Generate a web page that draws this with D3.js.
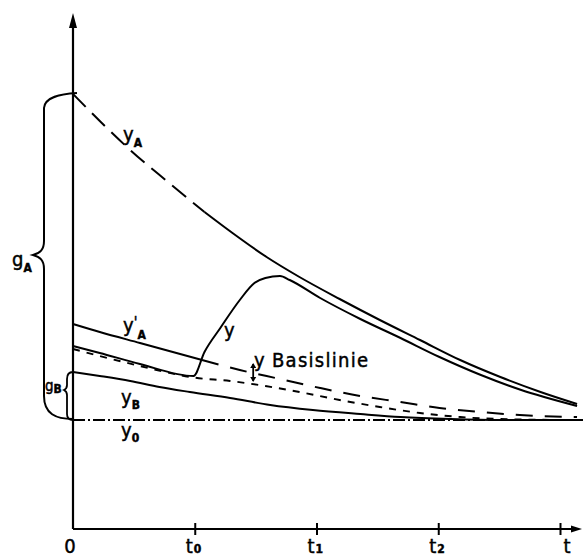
<!DOCTYPE html>
<html><head><meta charset="utf-8">
<script src="https://cdn.jsdelivr.net/npm/d3@7"></script>
<style>
body{margin:0;background:#fff}
svg{display:block}
text{font-family:"DejaVu Sans Condensed","DejaVu Sans",sans-serif;fill:#000;stroke:#000;stroke-width:0.45px}
</style>
</head><body>
<svg id="c" width="583" height="559"></svg>
<script>
// ---------- data ----------
const tickValues = [0, 1, 2, 3, 4];
const tickMain   = ["0", "t", "t", "t", "t"];
const tickSub    = ["", "0", "1", "2", ""];

// y_A (dashed until injection, then solid)
const yA_t = [0, 0.22, 0.47, 0.77, 1.08, 1.31, 1.59, 1.86, 2.19, 2.52, 2.85, 3.18, 3.51, 3.84, 4.14];
const yA_v = [43.5, 40.8, 37.9, 34.8, 31.7, 29.6, 27.2, 25.2, 23.0, 20.9, 18.9, 16.9, 15.2, 13.7, 12.5];

// measured signal y
const y_t = [0, 0.22, 0.55, 0.99, 1.08, 1.21, 1.37, 1.49, 1.58, 1.70, 1.78, 2.03, 2.36, 2.69, 3.01, 3.34, 3.67, 4.14];
const y_v = [18.3, 17.6, 16.5, 15.3, 17.7, 20.1, 22.9, 24.6, 25.1, 25.3, 24.9, 23.1, 21.0, 19.1, 17.2, 15.45, 13.95, 12.3];

// y Basislinie (short dashes)
const base_t = [0, 0.22, 0.55, 0.99, 1.29, 1.58, 1.86, 2.19, 2.52, 2.85, 3.18, 3.67, 4.14];
const base_v = [18.0, 17.3, 16.3, 15.15, 14.8, 14.3, 13.7, 12.9, 12.2, 11.6, 11.2, 10.95, 10.9];

// y'_A (solid, then long dashes)
const yA2_t = [0, 0.22, 0.55, 0.88, 1.06, 1.37, 1.70, 2.03, 2.36, 2.69, 3.01, 3.34, 3.67, 4.14];
const yA2_v = [20.5, 19.7, 18.6, 17.5, 16.9, 15.9, 15.0, 14.1, 13.3, 12.7, 12.1, 11.7, 11.4, 11.2];

// y_B
const yB_t = [0, 0.22, 0.47, 0.71, 0.96, 1.29, 1.62, 1.97, 2.36, 2.69, 3.10, 3.51, 4.14];
const yB_v = [15.7, 15.3, 14.8, 14.2, 13.7, 13.1, 12.4, 11.9, 11.5, 11.2, 11.0, 10.9, 10.9];

// y_0 (constant)
const y0_t = [0, 4.2];
const y0_v = [10.9, 10.9];

const breakA = 1.08;   // end of dashed part of y_A
const breakA2 = 1.06;  // end of solid part of y'_A

// ---------- chart ----------
const svg = d3.select("#c");
const x = d3.scaleLinear().domain([0, 4]).range([73, 560]);
const y = d3.scaleLinear().domain([0, 50]).range([529, 29]);

const pts = (ts, vs) => ts.map((t, i) => [t, vs[i]]);
const line = d3.line().x(d => x(d[0])).y(d => y(d[1])).curve(d3.curveMonotoneX);
const lineStraight = d3.line().x(d => x(d[0])).y(d => y(d[1]));

function draw(data, dash, w, gen) {
  svg.append("path").attr("d", (gen || line)(data)).attr("fill", "none")
    .attr("stroke", "#000").attr("stroke-width", w || 2)
    .attr("stroke-linejoin", "round")
    .attr("stroke-dasharray", dash || null);
}

// axes
const g = svg.append("g");
g.append("line").attr("x1", x(0)).attr("x2", 578).attr("y1", y(0)).attr("y2", y(0))
  .attr("stroke", "#000").attr("stroke-width", 2.2);
g.append("line").attr("x1", x(0)).attr("x2", x(0)).attr("y1", y(0)).attr("y2", 24)
  .attr("stroke", "#000").attr("stroke-width", 2.2);
g.append("path").attr("d", `M${x(0)},13 L${x(0)-4},28 L${x(0)+4},28 Z`).attr("fill", "#000");
g.append("path").attr("d", `M582,${y(0)} L571,${y(0)-3.5} L571,${y(0)+3.5} Z`).attr("fill", "#000");

const ax = svg.append("g").attr("transform", `translate(0,${y(0)-6})`)
  .call(d3.axisBottom(x).tickValues(tickValues.slice(1)).tickSize(12).tickFormat(""));
ax.select(".domain").remove();
ax.selectAll(".tick line").attr("stroke", "#000").attr("stroke-width", 2);

tickValues.forEach((tv, i) => {
  const hasSub = tickSub[i] !== "";
  let tx;
  if (i === 0) tx = x(tv) - 3;
  else if (hasSub) tx = x(tv) - 4;
  else tx = x(tv) + 7;
  const t = svg.append("text").attr("x", hasSub ? tx - 5 : tx).attr("y", 553)
    .attr("text-anchor", hasSub ? "start" : "middle").attr("font-size", 20);
  t.append("tspan").text(tickMain[i]);
  if (hasSub) t.append("tspan").attr("font-size", 12).attr("font-weight", "bold").attr("dx", 1).text(tickSub[i]);
});

// curves
const yA = pts(yA_t, yA_v);
draw(yA.filter(d => d[0] <= breakA), "18,9");
draw(yA.filter(d => d[0] >= breakA));

draw(pts(y_t, y_v));

draw(pts(base_t, base_v), "7,7", 1.9);

const yA2 = pts(yA2_t, yA2_v);
draw(yA2.filter(d => d[0] <= breakA2));
draw(yA2.filter(d => d[0] >= breakA2), "17,12");

draw(pts(yB_t, yB_v));
draw(pts(y0_t, y0_v), "12,3,2,3", 1.8, lineStraight);

// difference marker
const mx = x(1.48);
svg.append("line").attr("x1", mx).attr("x2", mx).attr("y1", y(16.5)).attr("y2", y(14.8))
  .attr("stroke", "#000").attr("stroke-width", 1.8);
svg.append("path").attr("d", `M${mx},${y(16.6)} l-3,5 h6 Z M${mx},${y(14.7)} l-3,-5 h6 Z`).attr("fill", "#000");

// braces
const bTopA = y(yA_v[0]), bBot = y(y0_v[0]), bTopB = y(yB_v[0]);
const mid = (bTopA + bBot) / 2 - 2;
svg.append("path").attr("fill", "none").attr("stroke", "#000").attr("stroke-width", 2)
  .attr("d", `M${x(0)+4},${bTopA-1} C60,${bTopA} 45,${bTopA+3} 44,${bTopA+14} L44,${mid-14} C44,${mid-5} 40,${mid-2} 33,${mid} C40,${mid+2} 44,${mid+5} 44,${mid+14} L44,${bBot-24} C44,${bBot-6} 56,${bBot-1} ${x(0)},${bBot-1}`);
svg.append("path").attr("fill", "none").attr("stroke", "#000").attr("stroke-width", 1.8)
  .attr("d", `M${x(0)},${bTopB} C69,${bTopB} 67,${bTopB+2} 67,${bTopB+7} L67,${bTopB+13} C67,${bTopB+16} 66,${bTopB+17} 64,${bTopB+18} C66,${bTopB+19} 67,${bTopB+20} 67,${bTopB+23} L67,${bBot-6} C67,${bBot-2} 69,${bBot} ${x(0)},${bBot}`);

// labels (main letter + optional prime + subscript, one text element each)
function label(px, py, main, fs, sub, sdy, prime) {
  const t = svg.append("text").attr("x", px).attr("y", py).attr("font-size", fs);
  t.append("tspan").text(main);
  if (prime) t.append("tspan").attr("font-size", 15).attr("dy", -4).text("'");
  if (sub) t.append("tspan").attr("font-size", 12).attr("font-weight", "bold")
    .attr("dy", sdy).text(sub);
  return t;
}
label(123, 141, "y", 20, "A", 6);
label(123, 332, "y", 20, "A", 11, true);
label(121, 404, "y", 20, "B", 5);
label(121, 437, "y", 20, "0", 5);
label(224, 337, "y", 20);
label(12, 266, "g", 20, "A", 6);
label(45, 391, "g", 15, "B", 2);

const bl = svg.append("text").attr("x", 254).attr("y", 367).attr("font-size", 20);
bl.append("tspan").text("y");
bl.append("tspan").attr("x", 272).attr("textLength", 96).attr("lengthAdjust", "spacing").text("Basislinie");
</script>
</body></html>
